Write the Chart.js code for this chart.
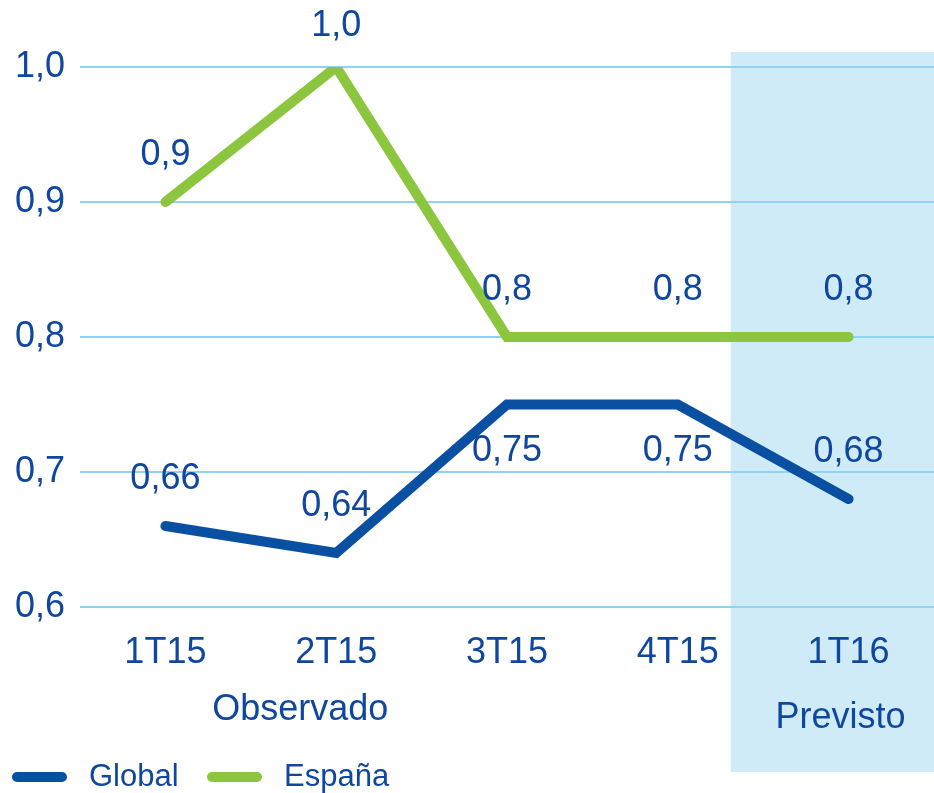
<!DOCTYPE html>
<html>
<head>
<meta charset="utf-8">
<script src="https://cdn.jsdelivr.net/npm/chart.js@4.4.0/dist/chart.umd.min.js"></script>
<style>
  html, body { margin: 0; padding: 0; background: #fff; }
  #wrap { width: 934px; height: 793px; }
</style>
</head>
<body>
<div id="wrap"><canvas id="myChart"></canvas></div>
<script>
// quarters and series
var quarters = ["1T15", "2T15", "3T15", "4T15", "1T16"];
var globalValues = [0.66, 0.64, 0.75, 0.75, 0.68];
var spainValues = [0.9, 1.0, 0.8, 0.8, 0.8];
var yTicks = [0.6, 0.7, 0.8, 0.9, 1.0];
var periodLabels = ["Observado", "Previsto"];

var textBlue = '#0f469e';
var globalColor = '#0a50a2';
var spainColor = '#8cc63e';
var fontFamily = '"Liberation Sans", Arial, sans-serif';

// which side of the line each Global value label sits on
var globalLabelSide = ['above', 'above', 'below', 'below', 'above'];

function fmt(v, decimals) {
    return v.toFixed(decimals).replace('.', ',');
}

var decor = {
    id: 'decor',
    beforeDraw: function(chart) {
        // shaded forecast band
        var ctx = chart.ctx, x = chart.scales.x, area = chart.chartArea;
        var step = x.getPixelForValue(1) - x.getPixelForValue(0);
        var left = x.getPixelForValue(4) - step * 0.69;
        var top = area.top - 15;
        ctx.save();
        ctx.fillStyle = '#cfebf8';
        ctx.fillRect(left, top, chart.width - left, chart.height - 21 - top);
        ctx.restore();
    },
    afterDatasetsDraw: function(chart) {
        var ctx = chart.ctx;
        ctx.save();
        ctx.font = '36px ' + fontFamily;
        ctx.fillStyle = textBlue;
        ctx.textAlign = 'center';
        ctx.textBaseline = 'middle';
        chart.data.datasets.forEach(function(ds, i) {
            var meta = chart.getDatasetMeta(i);
            meta.data.forEach(function(pt, j) {
                var side = ds.labelSides ? ds.labelSides[j] : 'above';
                var y = side === 'below' ? pt.y + 47 : pt.y - 47;
                ctx.fillText(fmt(ds.data[j], ds.decimals), pt.x, Math.max(y, 26));
            });
        });
        ctx.restore();
    },
    afterDraw: function(chart) {
        var ctx = chart.ctx, x = chart.scales.x;
        ctx.save();
        ctx.fillStyle = textBlue;
        ctx.textAlign = 'center';
        ctx.textBaseline = 'middle';
        ctx.font = '36px ' + fontFamily;
        ctx.fillText(periodLabels[0], x.getPixelForValue(1) - 36, 710);
        ctx.fillText(periodLabels[1], x.getPixelForValue(4) - 8, 718);

        // legend
        ctx.font = '31px ' + fontFamily;
        ctx.textAlign = 'left';
        ctx.lineCap = 'round';
        ctx.lineWidth = 10;
        var lx = 17;
        chart.data.datasets.forEach(function(ds) {
            ctx.strokeStyle = ds.borderColor;
            ctx.beginPath();
            ctx.moveTo(lx, 777);
            ctx.lineTo(lx + 45, 777);
            ctx.stroke();
            ctx.fillText(ds.label, lx + 72, 777);
            lx += 195;
        });
        ctx.restore();
    }
};

var ctx = document.getElementById('myChart').getContext('2d');

var chart = new Chart(ctx, {
    type: 'line',
    data: {
        labels: quarters,
        datasets: [
            {
                label: "Global",
                data: globalValues,
                borderColor: globalColor,
                borderWidth: 10,
                borderCapStyle: 'round',
                borderJoinStyle: 'miter',
                pointRadius: 0,
                decimals: 2,
                labelSides: globalLabelSide
            },
            {
                label: "España",
                data: spainValues,
                borderColor: spainColor,
                borderWidth: 10,
                borderCapStyle: 'round',
                borderJoinStyle: 'miter',
                pointRadius: 0,
                decimals: 1
            }
        ]
    },
    options: {
        responsive: true,
        maintainAspectRatio: false,
        animation: false,
        layout: { padding: { top: 67, left: 0, right: 0, bottom: 116 } },
        plugins: {
            legend: { display: false },
            tooltip: { enabled: false }
        },
        scales: {
            x: {
                offset: true,
                grid: { display: false },
                border: { display: false },
                afterFit: function(axis) { axis.height = 70; },
                ticks: {
                    color: textBlue,
                    font: { family: fontFamily, size: 36 },
                    padding: 16
                }
            },
            y: {
                min: 0.6,
                max: 1.0,
                afterBuildTicks: function(axis) {
                    axis.ticks = yTicks.map(function(v) { return { value: v }; });
                },
                afterFit: function(axis) { axis.width = 80; },
                grid: { color: '#90d2f2', lineWidth: 2, drawTicks: false },
                border: { display: false },
                ticks: {
                    color: textBlue,
                    font: { family: fontFamily, size: 36 },
                    padding: 15,
                    callback: function(v) { return fmt(v, 1); }
                }
            }
        }
    },
    plugins: [decor]
});
</script>
</body>
</html>
